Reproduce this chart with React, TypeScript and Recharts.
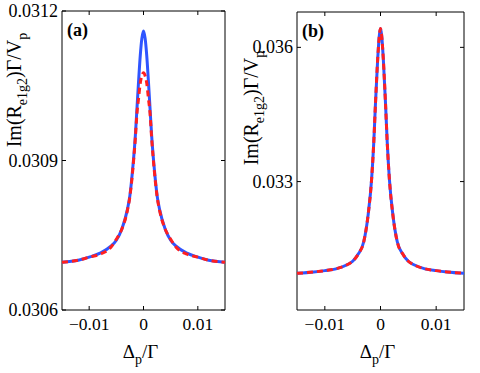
import { LineChart, Line, XAxis, YAxis, ReferenceArea } from "recharts";

// probe detuning Δp/Γ for panel (a)
const detuningA = [
  -0.015, -0.012, -0.01, -0.008, -0.006, -0.005, -0.004, -0.003, -0.0025, -0.002, -0.0015,
  -0.0012, -0.0009, -0.0006, -0.0003, 0, 0.0003, 0.0006, 0.0009, 0.0012, 0.0015, 0.002,
  0.0025, 0.003, 0.004, 0.005, 0.006, 0.008, 0.01, 0.012, 0.015,
];
const solidA = [
  0.030696, 0.0307, 0.030706, 0.030714, 0.030728, 0.03074, 0.030762, 0.0308, 0.03083, 0.030882,
  0.03095, 0.031005, 0.03106, 0.03111, 0.031145, 0.03116, 0.031145, 0.03111, 0.03106, 0.031005,
  0.03095, 0.030882, 0.03083, 0.0308, 0.030762, 0.03074, 0.030728, 0.030714, 0.030706, 0.0307,
  0.030696,
];
const dashedA = [
  0.030696, 0.0307, 0.030706, 0.030712, 0.030726, 0.030742, 0.030762, 0.030798, 0.030828, 0.030878,
  0.030945, 0.030995, 0.031025, 0.031055, 0.03107, 0.031076, 0.03107, 0.031055, 0.031025, 0.030995,
  0.030945, 0.030878, 0.030828, 0.030798, 0.030762, 0.030742, 0.030726, 0.030712, 0.030706, 0.0307,
  0.030696,
];

// panel (b)
const detuningB = [
  -0.015, -0.012, -0.01, -0.008, -0.006, -0.005, -0.004, -0.003, -0.0022, -0.0016, -0.0012,
  -0.0009, -0.0005, -0.0002, 0, 0.0002, 0.0005, 0.0009, 0.0012, 0.0016, 0.0022, 0.003, 0.004,
  0.005, 0.006, 0.008, 0.01, 0.012, 0.015,
];
const solidB = [
  0.03095, 0.03098, 0.03101, 0.03105, 0.03114, 0.03122, 0.03138, 0.03166, 0.03228, 0.03305,
  0.0339, 0.03475, 0.03575, 0.03628, 0.03642, 0.03628, 0.03575, 0.03475, 0.0339, 0.03305,
  0.03228, 0.03166, 0.03138, 0.03122, 0.03114, 0.03105, 0.03101, 0.03098, 0.03095,
];
const dashedB = solidB;

const xTicks = [-0.01, 0, 0.01];
const yTicksA = [0.0306, 0.0309, 0.0312];
const yTicksB = [0.033, 0.036];

const FONT = "Liberation Serif";
const CHART_H = 373;
const BOTTOM = 63; // space below the plot box
const TICK = 4;

const fmtX = (v: number) => (v === 0 ? "0" : v.toFixed(2).replace("-", "\u2212"));

interface PanelProps {
  xs: number[];
  solid: number[];
  dashed: number[];
  left: number;
  top: number;
  right: number;
  yWidth: number;
  yDomain: [number, number];
  yTicks: number[];
  digits: number;
  tag: string;
  labelCy: number;
  labelCx: number;
}

function Panel(p: PanelProps) {
  const rows = p.xs.map((x, i) => ({ x, solid: p.solid[i], dashed: p.dashed[i] }));
  const plotBottom = CHART_H - BOTTOM;
  const plotRight = 240 - p.right;

  // ticks point inward on all four sides, like the original figure
  const XTick = (props: any) => (
    <g>
      <line x1={props.x} x2={props.x} y1={plotBottom} y2={plotBottom - TICK} stroke="#000" />
      <line x1={props.x} x2={props.x} y1={p.top} y2={p.top + TICK} stroke="#000" />
      <text
        x={props.x}
        y={plotBottom + 20}
        textAnchor="middle"
        style={{ fontFamily: FONT, fontSize: 17.5 }}
        fill="#000"
      >
        {fmtX(props.payload.value)}
      </text>
    </g>
  );

  const YTick = (props: any) => (
    <g>
      <line x1={p.yWidth} x2={p.yWidth + TICK} y1={props.y} y2={props.y} stroke="#000" />
      <line x1={plotRight} x2={plotRight - TICK} y1={props.y} y2={props.y} stroke="#000" />
      <text
        x={p.yWidth - 4}
        y={props.y + 6}
        textAnchor="end"
        style={{ fontFamily: FONT, fontSize: 18 }}
        fill="#000"
      >
        {props.payload.value.toFixed(p.digits)}
      </text>
    </g>
  );

  return (
    <div style={{ position: "absolute", left: p.left, top: 0, fontFamily: FONT }}>
      <LineChart
        width={240}
        height={CHART_H}
        data={rows}
        margin={{ top: p.top, right: p.right, bottom: BOTTOM - 30, left: 0 }}
      >
        <XAxis
          dataKey="x"
          type="number"
          domain={[-0.015, 0.015]}
          allowDataOverflow
          ticks={xTicks}
          interval={0}
          tick={XTick}
          tickLine={false}
          axisLine={false}
          height={30}
          label={{
            content: (props: any) => {
              const cx = props.viewBox.x + props.viewBox.width / 2 - 3;
              return (
                <text x={cx} y={358} textAnchor="middle" style={{ fontFamily: FONT, fontSize: 19 }} fill="#000">
                  Δ
                  <tspan dy={6} fontSize={14}>p</tspan>
                  <tspan dy={-6}>/Γ</tspan>
                </text>
              );
            },
          }}
        />
        <YAxis
          type="number"
          domain={p.yDomain}
          allowDataOverflow
          ticks={p.yTicks}
          interval={0}
          tick={YTick}
          tickLine={false}
          axisLine={false}
          width={p.yWidth}
          label={{
            content: () => (
              <g>
                <text
                  x={p.labelCx}
                  y={p.labelCy}
                  transform={`rotate(-90 ${p.labelCx} ${p.labelCy})`}
                  textAnchor="middle"
                  style={{ fontFamily: FONT, fontSize: 20 }}
                  fill="#000"
                >
                  Im(R
                  <tspan dy={6} fontSize={14}>e1g2</tspan>
                  <tspan dy={-6}>)Γ/V</tspan>
                  <tspan dy={6} fontSize={14}>p</tspan>
                </text>
                <text
                  x={p.yWidth + 5}
                  y={p.top + 25}
                  style={{ fontFamily: FONT, fontSize: 18, fontWeight: "bold" }}
                  fill="#000"
                >
                  {p.tag}
                </text>
              </g>
            ),
          }}
        />
        <ReferenceArea
          x1={-0.015}
          x2={0.015}
          y1={p.yDomain[0]}
          y2={p.yDomain[1]}
          fill="none"
          stroke="#000"
          strokeWidth={1}
          ifOverflow="visible"
        />
        <Line
          type="monotone"
          dataKey="solid"
          stroke="#2f55ff"
          strokeWidth={3}
          dot={false}
          activeDot={false}
          isAnimationActive={false}
        />
        <Line
          type="monotone"
          dataKey="dashed"
          stroke="#ff1f1f"
          strokeWidth={3}
          strokeDasharray="6 4"
          dot={false}
          activeDot={false}
          isAnimationActive={false}
        />
      </LineChart>
    </div>
  );
}

export default function App() {
  return (
    <div
      style={{
        position: "absolute",
        left: 0,
        top: 0,
        width: 480,
        height: 373,
        background: "#fff",
      }}
    >
      <Panel
        xs={detuningA}
        solid={solidA}
        dashed={dashedA}
        left={0}
        top={11}
        right={15}
        yWidth={62}
        yDomain={[0.0306, 0.0312]}
        yTicks={yTicksA}
        digits={4}
        tag="(a)"
        labelCx={21}
        labelCy={90}
      />
      <Panel
        xs={detuningB}
        solid={solidB}
        dashed={dashedB}
        left={240}
        top={12}
        right={16}
        yWidth={57}
        yDomain={[0.03013, 0.03679]}
        yTicks={yTicksB}
        digits={3}
        tag="(b)"
        labelCx={18}
        labelCy={108}
      />
    </div>
  );
}
